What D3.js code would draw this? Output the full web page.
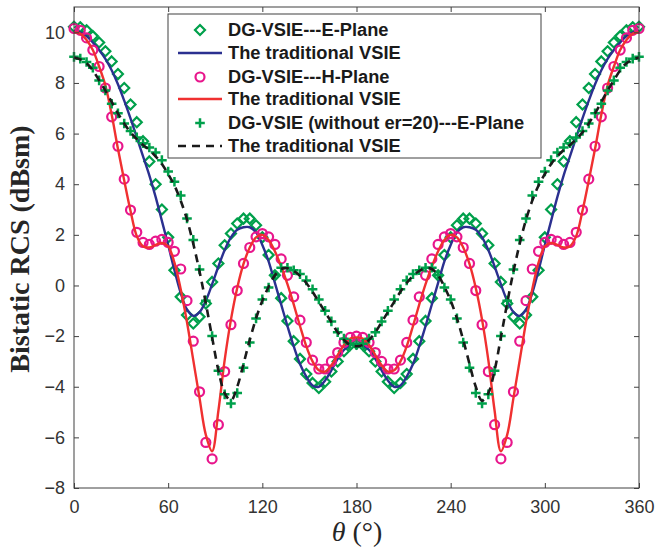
<!DOCTYPE html>
<html><head><meta charset="utf-8">
<script src="https://cdn.jsdelivr.net/npm/d3@7"></script>
<style>html,body{margin:0;padding:0;background:#fff;}</style>
</head><body>
<script>
const theta = [0,4,8,12,16,20,24,28,32,36,40,44,48,52,56,60,64,68,72,76,80,84,88,92,96,100,104,108,112,116,120,124,128,132,136,140,144,148,152,156,160,164,168,172,176,180,184,188,192,196,200,204,208,212,216,220,224,228,232,236,240,244,248,252,256,260,264,268,272,276,280,284,288,292,296,300,304,308,312,316,320,324,328,332,336,340,344,348,352,356,360];
const ePlaneDG = [10.22,10.2,10.08,9.85,9.6,9.25,8.85,8.35,7.8,7.15,6.45,5.7,4.9,4.0,3.0,1.9,0.6,-0.45,-1.17,-1.5,-1.24,-0.71,0.14,0.87,1.59,2.05,2.45,2.64,2.64,2.38,1.9,1.2,0.4,-0.5,-1.4,-2.2,-2.9,-3.5,-3.85,-4.05,-3.8,-3.4,-3.0,-2.6,-2.35,-2.3,-2.35,-2.6,-3.0,-3.4,-3.8,-4.05,-3.85,-3.5,-2.9,-2.2,-1.4,-0.5,0.4,1.2,1.9,2.38,2.64,2.64,2.45,2.05,1.59,0.87,0.14,-0.71,-1.24,-1.5,-1.17,-0.45,0.6,1.9,3.0,4.0,4.9,5.7,6.45,7.15,7.8,8.35,8.85,9.25,9.6,9.85,10.08,10.2,10.22];
const ePlaneTrad = [10.05,10.0,9.85,9.6,9.3,8.95,8.5,7.95,7.3,6.6,5.85,5.1,4.35,3.5,2.55,1.6,0.6,-0.3,-0.95,-1.2,-1.05,-0.6,0.05,0.75,1.4,1.9,2.2,2.3,2.3,2.1,1.6,0.95,0.1,-0.75,-1.6,-2.4,-3.1,-3.6,-3.95,-4.0,-3.75,-3.35,-2.9,-2.55,-2.35,-2.3,-2.35,-2.55,-2.9,-3.35,-3.75,-4.0,-3.95,-3.6,-3.1,-2.4,-1.6,-0.75,0.1,0.95,1.6,2.1,2.3,2.3,2.2,1.9,1.4,0.75,0.05,-0.6,-1.05,-1.2,-0.95,-0.3,0.6,1.6,2.55,3.5,4.35,5.1,5.85,6.6,7.3,7.95,8.5,8.95,9.3,9.6,9.85,10.0,10.05];
const hPlaneDG = [10.15,10.08,9.78,9.3,8.65,7.8,6.66,5.5,4.2,2.98,2.1,1.7,1.62,1.75,1.82,1.7,1.35,0.65,-0.6,-2.2,-4.2,-6.2,-6.85,-5.5,-3.4,-1.55,-0.2,0.87,1.5,1.92,2.05,1.92,1.62,1.05,0.4,-0.45,-1.37,-2.25,-2.95,-3.3,-3.3,-3.0,-2.65,-2.25,-2.05,-2.0,-2.05,-2.25,-2.65,-3.0,-3.3,-3.3,-2.95,-2.25,-1.37,-0.45,0.4,1.05,1.62,1.92,2.05,1.92,1.5,0.87,-0.2,-1.55,-3.4,-5.5,-6.85,-6.2,-4.2,-2.2,-0.6,0.65,1.35,1.7,1.82,1.75,1.62,1.7,2.1,2.98,4.2,5.5,6.66,7.8,8.65,9.3,9.78,10.08,10.15];
const hPlaneTrad = [10.0,9.95,9.7,9.3,8.65,7.9,6.75,5.4,4.15,2.95,1.95,1.55,1.5,1.6,1.68,1.55,0.9,-0.15,-1.45,-2.95,-4.45,-5.9,-6.55,-4.95,-2.95,-1.35,-0.1,0.85,1.5,1.9,2.0,1.8,1.35,0.75,0.05,-0.75,-1.6,-2.4,-3.0,-3.35,-3.4,-3.15,-2.75,-2.35,-2.1,-2.05,-2.1,-2.35,-2.75,-3.15,-3.4,-3.35,-3.0,-2.4,-1.6,-0.75,0.05,0.75,1.35,1.8,2.0,1.9,1.5,0.85,-0.1,-1.35,-2.95,-4.95,-6.55,-5.9,-4.45,-2.95,-1.45,-0.15,0.9,1.55,1.68,1.6,1.5,1.55,1.95,2.95,4.15,5.4,6.75,7.9,8.65,9.3,9.7,9.95,10.0];
const noErDG = [9.03,8.96,8.83,8.6,8.1,7.7,7.18,6.8,6.4,6.1,5.85,5.62,5.45,5.25,4.95,4.5,4.1,3.55,2.65,1.8,0.63,-0.6,-2.0,-3.37,-4.3,-4.66,-4.25,-3.25,-2.25,-1.3,-0.55,-0.08,0.4,0.7,0.7,0.6,0.45,0.2,-0.15,-0.55,-1.0,-1.42,-1.85,-2.1,-2.3,-2.35,-2.3,-2.1,-1.85,-1.42,-1.0,-0.55,-0.15,0.2,0.45,0.6,0.7,0.7,0.4,-0.08,-0.55,-1.3,-2.25,-3.25,-4.25,-4.66,-4.3,-3.37,-2.0,-0.6,0.63,1.8,2.65,3.55,4.1,4.5,4.95,5.25,5.45,5.62,5.85,6.1,6.4,6.8,7.18,7.7,8.1,8.6,8.83,8.96,9.03];
const noErTrad = [9.0,8.93,8.78,8.5,8.1,7.7,7.25,6.8,6.4,6.05,5.78,5.55,5.35,5.1,4.8,4.4,3.95,3.35,2.6,1.65,0.55,-0.7,-2.05,-3.35,-4.25,-4.55,-4.0,-3.1,-2.15,-1.3,-0.6,-0.05,0.4,0.65,0.68,0.58,0.38,0.1,-0.25,-0.65,-1.05,-1.45,-1.85,-2.15,-2.35,-2.4,-2.35,-2.15,-1.85,-1.45,-1.05,-0.65,-0.25,0.1,0.38,0.58,0.68,0.65,0.4,-0.05,-0.6,-1.3,-2.15,-3.1,-4.0,-4.55,-4.25,-3.35,-2.05,-0.7,0.55,1.65,2.6,3.35,3.95,4.4,4.8,5.1,5.35,5.55,5.78,6.05,6.4,6.8,7.25,7.7,8.1,8.5,8.78,8.93,9.0];
const xTicks = [0,60,120,180,240,300,360];
const yTicks = [-8,-6,-4,-2,0,2,4,6,8,10];
const legendLabels = ["DG-VSIE---E-Plane","The traditional VSIE","DG-VSIE---H-Plane","The traditional VSIE","DG-VSIE (without er=20)---E-Plane","The traditional VSIE"];

const W = 657, H = 550;
const green = "#00a04b", blue = "#2b3090", red = "#f03030", pink = "#e8168c", black = "#1a1a1a";
const axisColor = "#404040";
const svg = d3.select("body").append("svg").attr("width", W).attr("height", H).style("display","block");
svg.append("rect").attr("width", W).attr("height", H).attr("fill", "#fff");

const x = d3.scaleLinear().domain([0, 360]).range([74, 639]);
const y = d3.scaleLinear().domain([-8, 11]).range([488, 7]);

const plot = svg.append("g");
const lineGen = vals => d3.line().x((d,i)=>x(theta[i])).y(d=>y(d)).curve(d3.curveCatmullRom.alpha(0.5))(vals);

function diamonds(g, vals){
  g.selectAll(null).data(vals).join("path")
    .attr("d", d3.symbol(d3.symbolDiamond2, 64)())
    .attr("transform",(d,i)=>`translate(${x(theta[i])},${y(d)})`)
    .attr("fill","none").attr("stroke",green).attr("stroke-width",2.2);
}
function circles(g, vals){
  g.selectAll(null).data(vals).join("circle")
    .attr("cx",(d,i)=>x(theta[i])).attr("cy",d=>y(d)).attr("r",4.5)
    .attr("fill","none").attr("stroke",pink).attr("stroke-width",2.2);
}
function pluses(g, vals){
  g.selectAll(null).data(vals).join("path")
    .attr("d","M-4.8,0H4.8M0,-4.8V4.8")
    .attr("transform",(d,i)=>`translate(${x(theta[i])},${y(d)})`)
    .attr("fill","none").attr("stroke",green).attr("stroke-width",2.5);
}
diamonds(plot.append("g"), ePlaneDG);
plot.append("path").attr("d", lineGen(ePlaneTrad)).attr("fill","none").attr("stroke",blue).attr("stroke-width",2.4);
circles(plot.append("g"), hPlaneDG);
plot.append("path").attr("d", lineGen(hPlaneTrad)).attr("fill","none").attr("stroke",red).attr("stroke-width",2.4);
pluses(plot.append("g"), noErDG);
plot.append("path").attr("d", lineGen(noErTrad)).attr("fill","none").attr("stroke",black).attr("stroke-width",2.6).attr("stroke-dasharray","8,6");

// axes box
const axG = svg.append("g");
axG.append("rect").attr("x",74).attr("y",7).attr("width",565).attr("height",481)
  .attr("fill","none").attr("stroke",axisColor).attr("stroke-width",1);
const bottomAxis = d3.axisBottom(x).tickValues(xTicks).tickSize(-5).tickPadding(12);
const gb = axG.append("g").attr("transform","translate(0,488)").call(bottomAxis);
const topAxis = d3.axisTop(x).tickValues(xTicks).tickSize(-5).tickFormat("");
const gt = axG.append("g").attr("transform","translate(0,7)").call(topAxis);
const leftAxis = d3.axisLeft(y).tickValues(yTicks).tickSize(-5).tickPadding(9);
const gl = axG.append("g").attr("transform","translate(74,0)").call(leftAxis);
const rightAxis = d3.axisRight(y).tickValues(yTicks).tickSize(-5).tickFormat("");
const gr = axG.append("g").attr("transform","translate(639,0)").call(rightAxis);
[gb,gt,gl,gr].forEach(g=>{
  g.select(".domain").remove();
  g.selectAll(".tick line").attr("stroke",axisColor);
  g.selectAll("text").attr("fill","#333").style("font-family","'Liberation Sans', Arial, sans-serif").style("font-size","18px");
});

// axis labels
svg.append("text").attr("transform","translate(29,249) rotate(-90)")
  .attr("text-anchor","middle").style("font-family","'Liberation Serif','Times New Roman',serif")
  .style("font-weight","bold").style("font-size","28px").attr("fill","#262626").text("Bistatic RCS (dBsm)");
const xl = svg.append("text").attr("x",357).attr("y",541).attr("text-anchor","middle")
  .style("font-family","'Liberation Serif','Times New Roman',serif").style("font-size","28px").attr("fill","#262626");
xl.append("tspan").style("font-style","italic").text("θ");
xl.append("tspan").text(" (°)");

// legend
const lg = svg.append("g");
lg.append("rect").attr("x",168).attr("y",14).attr("width",373).attr("height",144)
  .attr("fill","#fff").attr("stroke",axisColor).attr("stroke-width",1);
const rowsY = [30,53,77,99,123,146];
legendLabels.forEach((t,i)=>{
  lg.append("text").attr("x",228).attr("y",rowsY[i]).attr("dy","0.35em")
    .style("font-family","'Liberation Sans', Arial, sans-serif").style("font-weight","bold").style("font-size","18.3px")
    .attr("fill","#1a1a1a").text(t);
});
lg.append("path").attr("d",d3.symbol(d3.symbolDiamond2,64)()).attr("transform",`translate(200,${rowsY[0]})`).attr("fill","none").attr("stroke",green).attr("stroke-width",2.2);
lg.append("line").attr("x1",178).attr("x2",222).attr("y1",rowsY[1]).attr("y2",rowsY[1]).attr("stroke",blue).attr("stroke-width",2.4);
lg.append("circle").attr("cx",200).attr("cy",rowsY[2]).attr("r",4.5).attr("fill","none").attr("stroke",pink).attr("stroke-width",2.2);
lg.append("line").attr("x1",178).attr("x2",222).attr("y1",rowsY[3]).attr("y2",rowsY[3]).attr("stroke",red).attr("stroke-width",2.4);
lg.append("path").attr("d","M-4.8,0H4.8M0,-4.8V4.8").attr("transform",`translate(200,${rowsY[4]})`).attr("fill","none").attr("stroke",green).attr("stroke-width",2.5);
lg.append("line").attr("x1",178).attr("x2",222).attr("y1",rowsY[5]).attr("y2",rowsY[5]).attr("stroke",black).attr("stroke-width",2.6).attr("stroke-dasharray","8,6");
</script>
</body></html>
